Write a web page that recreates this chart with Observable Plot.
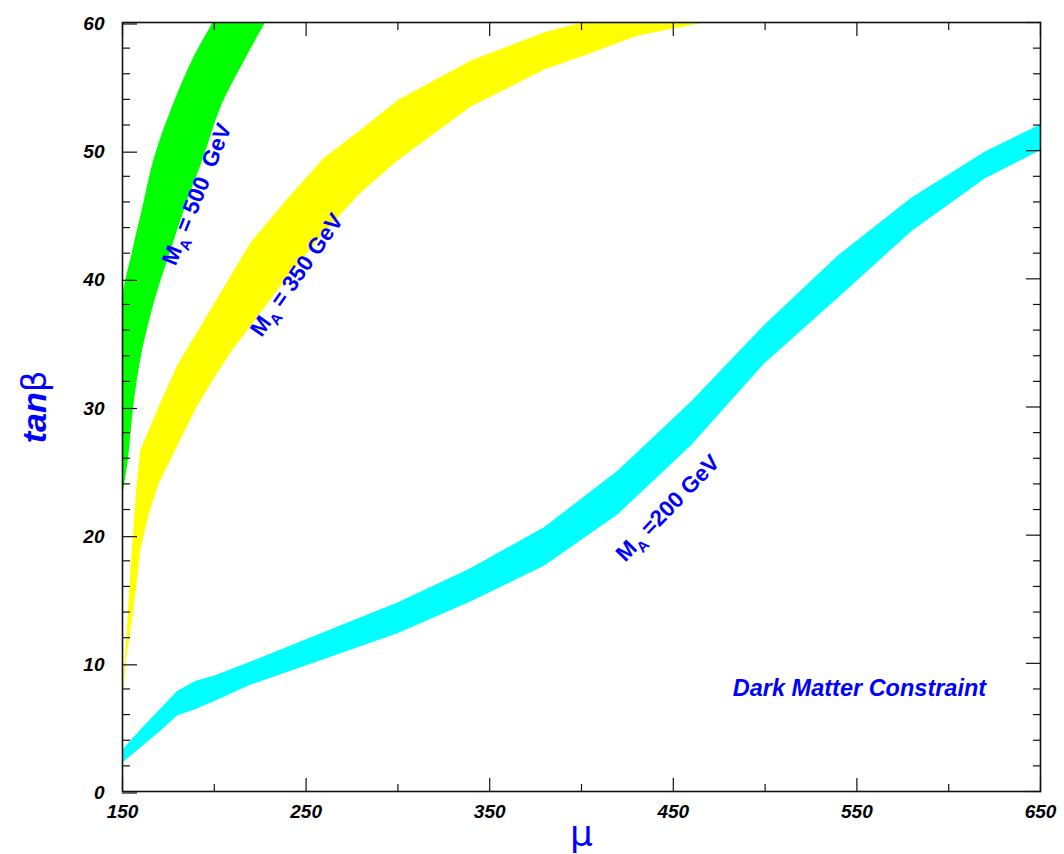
<!DOCTYPE html>
<html><head><meta charset="utf-8">
<script src="https://cdn.jsdelivr.net/npm/d3@7"></script>
<script src="https://cdn.jsdelivr.net/npm/@observablehq/plot@0.6"></script>
<style>body{margin:0;background:#fff} svg{display:block}</style>
</head><body><div id="chart"></div>
<script>
// M_A = 200 GeV band (cyan): tanβ lower/upper vs μ
const cyanMu    = [150, 160, 170, 180, 190, 200, 220, 260, 300, 340, 380, 420, 460, 500, 540, 580, 620, 650];
const cyanUpper = [3.2, 4.8, 6.3, 7.8, 8.6, 9.0, 10.1, 12.4, 14.7, 17.4, 20.6, 25.0, 30.4, 36.4, 41.8, 46.3, 49.9, 52.0];
const cyanLower = [2.2, 3.4, 4.6, 5.9, 6.4, 7.0, 8.3, 10.3, 12.3, 14.8, 17.6, 21.6, 27.0, 33.4, 38.5, 43.7, 47.8, 50.0];

// M_A = 350 GeV band (yellow)
const yellowMu    = [150, 152.5, 155, 158, 160, 165, 170, 180, 190, 200, 210, 220, 240, 260, 280, 300, 340, 380, 402, 430, 450, 469];
const yellowUpper = [7.3, 12.2, 18.2, 24.0, 26.6, 28.3, 30.0, 33.2, 35.6, 38.0, 40.4, 42.8, 46.2, 49.4, 51.6, 53.9, 57.0, 59.2, 60, 60, 60, 60];
const yellowLower = [7.0, 10.5, 12.9, 16.2, 18.9, 21.8, 24.0, 26.9, 29.8, 32.2, 34.4, 36.3, 40.1, 43.6, 46.7, 49.2, 53.4, 56.3, 57.4, 58.9, 59.5, 60];

// M_A = 500 GeV band (green): μ range for each tanβ
const greenTanb  = [23.2, 26, 30, 34, 38.5, 42, 45.5, 49.5, 53.5, 57, 60];
const greenLeft  = [150, 150, 150, 150, 150.2, 155.3, 161.0, 167.6, 177.5, 188.0, 199.5];
const greenRight = [150.4, 153.3, 156.1, 160.4, 168.1, 176.0, 184.1, 194.4, 204.0, 216.5, 228.0];

// ticks
const xMajor = [150, 250, 350, 450, 550, 650];
const xMinor = [200, 300, 400, 500, 600];
const yMajor = [0, 10, 20, 30, 40, 50, 60];
const yMinor = [2, 4, 6, 8, 12, 14, 16, 18, 22, 24, 26, 28, 32, 34, 36, 38, 42, 44, 46, 48, 52, 54, 56, 58];

// curve labels
const labelMain = ["M", "M", "M"];
const labelSub  = ["A", "A", "A"];
const labelRest = [" = 500  GeV", " = 350 GeV", " =200 GeV"];
const labelMu   = [190.6, 245.0, 447.1];
const labelTanb = [46.6, 40.3, 22.1];
const labelAngle = [-68, -55, -46];

const note = "Dark Matter Constraint";
const noteMu = 551.4, noteTanb = 8.0;

const cyan = cyanMu.map((m, i) => ({mu: m, lo: cyanLower[i], hi: cyanUpper[i]}));
const yellow = yellowMu.map((m, i) => ({mu: m, lo: yellowLower[i], hi: yellowUpper[i]}));
const green = greenTanb.map((t, i) => ({tanb: t, left: greenLeft[i], right: greenRight[i]}));
const labels = labelMain.map((m, i) => ({text: m + labelSub[i] + labelRest[i], mu: labelMu[i], tanb: labelTanb[i], angle: labelAngle[i]}));

const FONT = "'Liberation Sans', Arial, Helvetica, sans-serif";
const BLUE = "#0000ff";
const tickStyle = {stroke: "#111", strokeWidth: 1.2, label: null};
const tickText = {fontSize: 19, fontWeight: "bold", fontStyle: "italic", fontFamily: FONT, fill: "#000"};

const svg = Plot.plot({
  width: 1064,
  height: 854,
  marginLeft: 122,
  marginRight: 24,
  marginTop: 22,
  marginBottom: 63,
  style: {background: "#fff", fontFamily: FONT},
  x: {domain: [150, 650]},
  y: {domain: [0, 60]},
  marks: [
    Plot.areaY(cyan, {x: "mu", y1: "lo", y2: "hi", fill: "#00ffff", clip: true}),
    Plot.areaY(yellow, {x: "mu", y1: "lo", y2: "hi", fill: "#ffff00", clip: true}),
    Plot.areaX(green, {y: "tanb", x1: "left", x2: "right", fill: "#00ff00", curve: "catmull-rom", clip: true}),
    // left axis
    Plot.axisY({ticks: yMajor, anchor: "left", tickSize: -15, tickPadding: 33, dy: 1.5, ...tickStyle, ...tickText}),
    Plot.axisY({ticks: yMinor, anchor: "left", tickSize: -8, fill: "none", ...tickStyle}),
    // right axis
    Plot.axisY({ticks: yMajor, anchor: "right", tickSize: -15, fill: "none", ...tickStyle}),
    Plot.axisY({ticks: yMinor, anchor: "right", tickSize: -8, fill: "none", ...tickStyle}),
    // bottom axis
    Plot.axisX({ticks: xMajor, anchor: "bottom", tickSize: -13, tickPadding: 26, ...tickStyle, ...tickText}),
    Plot.axisX({ticks: xMinor, anchor: "bottom", tickSize: -7, fill: "none", ...tickStyle}),
    // top axis
    Plot.axisX({ticks: xMajor, anchor: "top", tickSize: -13, fill: "none", ...tickStyle}),
    Plot.axisX({ticks: xMinor, anchor: "top", tickSize: -7, fill: "none", ...tickStyle}),
    Plot.frame({stroke: "#111", strokeWidth: 1.6}),
    // curve labels
    Plot.text(labels, {x: "mu", y: "tanb", text: "text", rotate: "angle", fill: BLUE, fontSize: 22.5,
      fontWeight: "bold", fontFamily: FONT, textAnchor: "middle", lineAnchor: "middle", className: "ma-label"}),
    Plot.text([note], {x: () => noteMu, y: () => noteTanb, text: d => d, fill: BLUE, fontSize: 23.5,
      fontWeight: "bold", fontStyle: "italic", fontFamily: FONT, textAnchor: "middle", lineAnchor: "middle"}),
    // axis titles
    Plot.text(["tanβ"], {frameAnchor: "left", dx: -87, rotate: -90, text: d => d, fill: BLUE, fontSize: 34,
      fontWeight: "bold", fontStyle: "italic", fontFamily: FONT, textAnchor: "middle", lineAnchor: "middle", className: "ytitle"}),
    Plot.text(["μ"], {frameAnchor: "bottom", dy: 43, text: d => d, fill: BLUE, fontSize: 36,
      fontFamily: "'DejaVu Sans', sans-serif", textAnchor: "middle", lineAnchor: "middle", className: "xtitle"})
  ]
});

// subscripts in M_A labels
d3.select(svg).selectAll(".ma-label text").each(function() {
  const i = this.__data__;
  const t = d3.select(this);
  t.text(null);
  t.append("tspan").text(labelMain[i]);
  t.append("tspan").attr("font-size", 15).attr("dy", 6).text(labelSub[i]);
  t.append("tspan").attr("dy", -6).style("white-space", "pre").text(labelRest[i]);
});
// tanβ : β in symbol-like upright font
d3.select(svg).selectAll(".ytitle text").each(function() {
  const t = d3.select(this);
  t.text(null);
  t.append("tspan").text("tan");
  t.append("tspan").attr("font-family", "'DejaVu Sans', sans-serif").attr("font-weight", "normal")
    .attr("font-style", "normal").text("β");
});

document.getElementById("chart").appendChild(svg);
</script>
</body></html>
